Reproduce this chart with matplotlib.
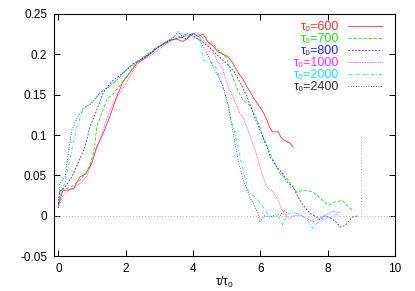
import numpy as np
import matplotlib
matplotlib.use('Agg')
import matplotlib.pyplot as plt

plt.rcParams['font.family'] = ['Liberation Sans', 'DejaVu Sans']
plt.rcParams['mathtext.fontset'] = 'custom'
plt.rcParams['mathtext.rm'] = 'Liberation Sans'
plt.rcParams['mathtext.it'] = 'Liberation Sans'

# tau0 = 600
x600 = [0, 0.13, 0.3, 0.46, 0.64, 0.82, 0.99, 1.14, 1.33, 1.53, 1.73, 1.92, 2.12, 2.33, 2.52, 2.72,
        2.9, 3.11, 3.3, 3.5, 3.7, 3.85, 4.0, 4.15, 4.3, 4.45, 4.6, 4.74, 4.9, 5.04, 5.2, 5.33, 5.47,
        5.6, 5.72, 5.84, 5.98, 6.1, 6.19, 6.27, 6.35, 6.45, 6.53, 6.6, 6.68, 6.78, 6.88, 6.97]
y600 = [0.012, 0.031, 0.032, 0.034, 0.048, 0.052, 0.065, 0.085, 0.102, 0.123, 0.147, 0.166, 0.177,
        0.189, 0.194, 0.2, 0.207, 0.213, 0.218, 0.219, 0.216, 0.22, 0.226, 0.222, 0.225, 0.215, 0.21,
        0.203, 0.2, 0.197, 0.188, 0.178, 0.17, 0.16, 0.152, 0.143, 0.135, 0.127, 0.119, 0.11, 0.104,
        0.104, 0.104, 0.098, 0.094, 0.092, 0.09, 0.085]

# tau0 = 700
x700 = [0, 0.1, 0.25, 0.4, 0.64, 0.84, 0.99, 1.08, 1.14, 1.3, 1.44, 1.6, 1.73, 1.9, 2.03, 2.2, 2.33,
        2.5, 2.7, 2.9, 3.1, 3.3, 3.5, 3.7, 3.9, 4.1, 4.25, 4.4, 4.55, 4.65, 4.8, 4.9, 5.0, 5.15, 5.33,
        5.49, 5.69, 5.9, 6.08, 6.29, 6.49, 6.58, 6.79, 6.88, 7.08, 7.27, 7.42, 7.57, 7.77, 8.01, 8.22,
        8.43, 8.57, 8.72]
y700 = [0.013, 0.032, 0.034, 0.036, 0.044, 0.054, 0.069, 0.085, 0.11, 0.128, 0.144, 0.15, 0.156,
        0.165, 0.172, 0.183, 0.191, 0.195, 0.2, 0.207, 0.212, 0.217, 0.219, 0.222, 0.224, 0.227, 0.222,
        0.218, 0.214, 0.21, 0.203, 0.2, 0.195, 0.175, 0.155, 0.143, 0.137, 0.119, 0.098, 0.077, 0.06,
        0.052, 0.046, 0.04, 0.029, 0.032, 0.031, 0.029, 0.022, 0.013, 0.017, 0.019, 0.013, 0.007]

# tau0 = 800
x800 = [0, 0.04, 0.2, 0.4, 0.58, 0.79, 0.94, 1.14, 1.33, 1.5, 1.63, 1.8, 2.0, 2.2, 2.4, 2.6, 2.8,
        3.0, 3.2, 3.4, 3.6, 3.8, 3.95, 4.1, 4.3, 4.5, 4.7, 4.95, 5.2, 5.4, 5.6, 5.8, 6.05, 6.19, 6.29,
        6.49, 6.67, 6.79, 6.97, 7.12, 7.27, 7.47, 7.68, 7.77, 7.92, 8.13, 8.25, 8.37, 8.52, 8.72, 8.9]
y800 = [0.01, 0.03, 0.036, 0.048, 0.065, 0.085, 0.11, 0.131, 0.152, 0.162, 0.168, 0.173, 0.18,
        0.188, 0.192, 0.197, 0.203, 0.21, 0.214, 0.218, 0.222, 0.219, 0.226, 0.22, 0.215, 0.208,
        0.2, 0.19, 0.18, 0.165, 0.148, 0.125, 0.1, 0.085, 0.073, 0.06, 0.052, 0.042, 0.036, 0.023,
        0.013, 0.003, -0.002, -0.005, 0.0, -0.004, -0.008, -0.014, -0.012, -0.002, 0.0]

# tau0 = 1000
x1000 = [0, 0.14, 0.34, 0.64, 0.84, 1.03, 1.14, 1.23, 1.4, 1.53, 1.7, 1.83, 2.0, 2.2, 2.4, 2.6,
         2.8, 3.0, 3.2, 3.4, 3.6, 3.75, 3.9, 4.05, 4.2, 4.35, 4.5, 4.71, 4.89, 5.04, 5.19, 5.39, 5.5,
         5.63, 5.84, 6.05, 6.19, 6.38, 6.53, 6.64, 6.72, 6.85, 7.0, 7.2, 7.4, 7.6, 7.8, 8.0, 8.15,
         8.3, 8.4]
y1000 = [0.01, 0.025, 0.032, 0.04, 0.048, 0.069, 0.085, 0.094, 0.115, 0.131, 0.145, 0.152, 0.163,
         0.178, 0.19, 0.195, 0.2, 0.207, 0.213, 0.218, 0.22, 0.225, 0.222, 0.226, 0.22, 0.215, 0.21,
         0.193, 0.181, 0.16, 0.147, 0.127, 0.12, 0.106, 0.082, 0.052, 0.036, 0.029, 0.019, 0.007,
         0.002, -0.003, 0.0, 0.001, -0.004, -0.008, -0.002, 0.002, 0.006, 0.004, 0.005]

# tau0 = 2000
x2000 = [0, 0.04, 0.2, 0.28, 0.4, 0.55, 0.73, 0.94, 1.14, 1.33, 1.53, 1.83, 2.12, 2.42, 2.81, 3.22,
         3.61, 3.81, 4.0, 4.2, 4.3, 4.45, 4.6, 4.75, 4.89, 5.0, 5.1, 5.25, 5.39, 5.54, 5.63, 5.84,
         5.98, 6.08, 6.2, 6.35, 6.5, 6.67, 6.8, 7.0, 7.2, 7.4, 7.57, 7.7, 7.9, 8.1, 8.25, 8.4]
y2000 = [0.01, 0.032, 0.04, 0.057, 0.081, 0.11, 0.131, 0.139, 0.147, 0.156, 0.16, 0.172, 0.185,
         0.193, 0.206, 0.216, 0.226, 0.224, 0.222, 0.222, 0.193, 0.19, 0.19, 0.177, 0.16, 0.143,
         0.123, 0.102, 0.073, 0.048, 0.032, 0.023, 0.017, 0.011, 0.003, -0.002, 0.001, -0.012, 0.002,
         0.004, 0.001, -0.006, -0.016, -0.008, -0.004, -0.002, 0.002, -0.002]

# tau0 = 2400
x2400 = [0, 0.04, 0.2, 0.28, 0.34, 0.4, 0.58, 0.79, 0.99, 1.23, 1.44, 1.73, 2.0, 2.3, 2.6, 2.9, 3.2,
         3.4, 3.55, 3.7, 3.85, 4.0, 4.2, 4.41, 4.6, 4.75, 4.89, 5.04, 5.19, 5.34, 5.49, 5.69, 5.84,
         5.93, 5.98, 6.13, 6.3, 6.45, 6.6, 6.7, 6.8]
y2400 = [0.01, 0.04, 0.048, 0.073, 0.09, 0.106, 0.123, 0.135, 0.139, 0.152, 0.158, 0.168, 0.18,
         0.19, 0.198, 0.207, 0.215, 0.22, 0.228, 0.222, 0.226, 0.222, 0.218, 0.201, 0.185, 0.172,
         0.16, 0.139, 0.102, 0.069, 0.044, 0.023, 0.011, 0.003, -0.008, 0.0, -0.002, 0.002, 0.0,
         0.007, 0.002]

labels = ['600', '700', '800', '1000', '2000', '2400']
xs = [x600, x700, x800, x1000, x2000, x2400]
ys = [y600, y700, y800, y1000, y2000, y2400]
colors = ['#ff3030', '#20e020', '#2020ff', '#ff30ff', '#20e8e8', '#303030']
dashes = [(None, None), (4, 2), (2, 2), (1, 1), (4, 2, 1, 2), (1, 2)]

xticks = [0, 2, 4, 6, 8, 10]
yticks = [-0.05, 0, 0.05, 0.1, 0.15, 0.2, 0.25]
ytick_labels = ['-0.05', '0', '0.05', '0.1', '0.15', '0.2', '0.25']

fig = plt.figure(figsize=(4.15, 2.91), dpi=100)
ax = fig.add_axes([0.130, 0.120, 0.822, 0.832])

ax.axhline(0, color='#b0b0b0', lw=0.7, ls=(0, (1, 2)))
ax.plot([9, 9], [0, 0.1], color='#b0b0b0', lw=0.7, ls=(0, (1, 2)))

for x, y, c, d, lab in zip(xs, ys, colors, dashes, labels):
    line, = ax.plot(x, y, color=c, lw=0.6, label='\u03c4\u2080=' + lab)
    if d[0] is not None:
        line.set_dashes(d)

ax.set_xlim(-0.13, 10)
ax.set_ylim(-0.05, 0.25)
ax.set_xticks(xticks)
ax.set_yticks(yticks)
ax.set_yticklabels(ytick_labels)
ax.tick_params(direction='in', top=True, right=True, length=4, width=0.7, labelsize=8.5, pad=5)
for s in ax.spines.values():
    s.set_linewidth(0.8)
ax.set_xlabel(r'$\tau/\tau_0$', fontsize=8.5, labelpad=0)

ax.legend(loc='upper right', frameon=False, markerfirst=False, labelcolor='linecolor',
          fontsize=9, handlelength=2.7, handletextpad=0.7, labelspacing=0.0,
          borderaxespad=0.0, bbox_to_anchor=(0.975, 0.99))

fig.savefig('out.png', dpi=100)
